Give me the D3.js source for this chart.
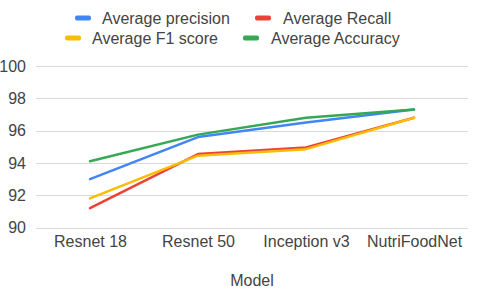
<!DOCTYPE html>
<html><head><meta charset="utf-8">
<script src="https://cdn.jsdelivr.net/npm/d3@7"></script>
<style>body{margin:0;background:#fff}svg{display:block}text{font-family:"Liberation Sans",Arial,sans-serif;fill:#444}</style>
</head><body>
<script>
const categories = ["Resnet 18","Resnet 50","Inception v3","NutriFoodNet"];
const precision = [93.0, 95.6, 96.5, 97.3];
const recall = [91.2, 94.55, 94.95, 96.8];
const f1 = [91.8, 94.45, 94.85, 96.8];
const accuracy = [94.1, 95.75, 96.8, 97.3];
const yTicks = [90, 92, 94, 96, 98, 100];
const seriesNames = ["Average precision","Average Recall","Average F1 score","Average Accuracy"];
const colors = ["#4285F4","#EA4335","#FBBC04","#34A853"];

const W = 480, H = 293;
const svg = d3.select("body").append("svg").attr("width", W).attr("height", H);
const x = d3.scalePoint().domain(categories).range([36, 468]).padding(0.5);
const y = d3.scaleLinear().domain([90, 100]).range([227.5, 66]);

// grid
svg.append("g").selectAll("line").data(yTicks).join("line")
  .attr("x1", 36).attr("x2", 468)
  .attr("y1", d => Math.round(y(d)) + 0.5).attr("y2", d => Math.round(y(d)) + 0.5)
  .attr("stroke", "#d9d9d9").attr("stroke-width", 1);

// y axis labels
const yAxis = d3.axisLeft(y).tickValues(yTicks).tickSize(0).tickPadding(0);
const gy = svg.append("g").attr("transform", "translate(26,0)").call(yAxis);
gy.select(".domain").remove();
gy.selectAll("text").attr("font-size", 16).style("fill", "#444").attr("font-family", "Liberation Sans, Arial, sans-serif");

// x axis labels
const xAxis = d3.axisBottom(x).tickSize(0).tickPadding(0);
const gx = svg.append("g").attr("transform", "translate(0,236)").call(xAxis);
gx.select(".domain").remove();
gx.selectAll("text").attr("font-size", 16).style("fill", "#444").attr("font-family", "Liberation Sans, Arial, sans-serif");

// axis title
svg.append("text").attr("x", 252).attr("y", 286).attr("text-anchor", "middle")
  .attr("font-size", 16).text("Model");

// lines
const data = [precision, recall, f1, accuracy];
const line = d3.line().x((d, i) => x(categories[i])).y(d => y(d));
svg.append("g").selectAll("path").data(data).join("path")
  .attr("d", d => line(d)).attr("fill", "none")
  .attr("stroke", (d, i) => colors[i]).attr("stroke-width", 2.5)
  .attr("stroke-linejoin", "round").attr("stroke-linecap", "round");

// legend
const legendPos = [
  {sx: 75, ty: 18, tx: 102},
  {sx: 255, ty: 18, tx: 283},
  {sx: 65, ty: 38, tx: 92},
  {sx: 243, ty: 38, tx: 271}
];
const lg = svg.append("g");
seriesNames.forEach((name, i) => {
  const p = legendPos[i];
  lg.append("rect").attr("x", p.sx).attr("y", p.ty - 2.5).attr("width", 16).attr("height", 5)
    .attr("rx", 2).attr("fill", colors[i]);
  lg.append("text").attr("x", p.tx).attr("y", p.ty).attr("dy", "0.35em")
    .attr("font-size", 16).text(name);
});
</script>
</body></html>
